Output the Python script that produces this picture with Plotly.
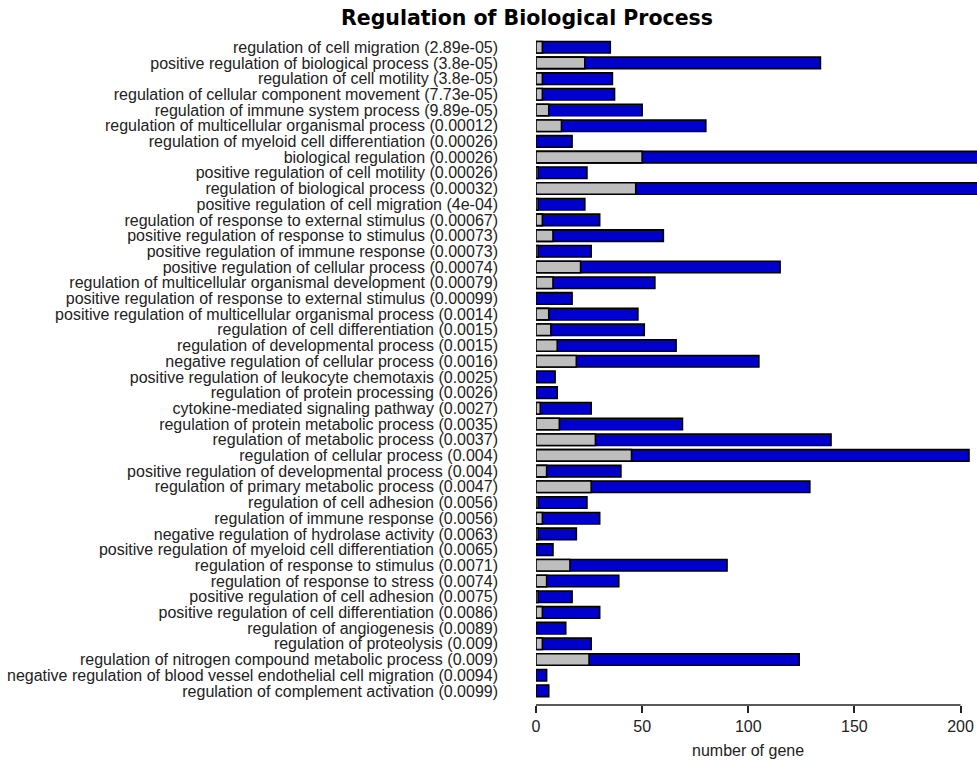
import plotly.graph_objects as go

# GO terms (top to bottom) with their p-values as printed
terms = [
    "regulation of cell migration",
    "positive regulation of biological process",
    "regulation of cell motility",
    "regulation of cellular component movement",
    "regulation of immune system process",
    "regulation of multicellular organismal process",
    "regulation of myeloid cell differentiation",
    "biological regulation",
    "positive regulation of cell motility",
    "regulation of biological process",
    "positive regulation of cell migration",
    "regulation of response to external stimulus",
    "positive regulation of response to stimulus",
    "positive regulation of immune response",
    "positive regulation of cellular process",
    "regulation of multicellular organismal development",
    "positive regulation of response to external stimulus",
    "positive regulation of multicellular organismal process",
    "regulation of cell differentiation",
    "regulation of developmental process",
    "negative regulation of cellular process",
    "positive regulation of leukocyte chemotaxis",
    "regulation of protein processing",
    "cytokine-mediated signaling pathway",
    "regulation of protein metabolic process",
    "regulation of metabolic process",
    "regulation of cellular process",
    "positive regulation of developmental process",
    "regulation of primary metabolic process",
    "regulation of cell adhesion",
    "regulation of immune response",
    "negative regulation of hydrolase activity",
    "positive regulation of myeloid cell differentiation",
    "regulation of response to stimulus",
    "regulation of response to stress",
    "positive regulation of cell adhesion",
    "positive regulation of cell differentiation",
    "regulation of angiogenesis",
    "regulation of proteolysis",
    "regulation of nitrogen compound metabolic process",
    "negative regulation of blood vessel endothelial cell migration",
    "regulation of complement activation",
]

pvalues = [
    "2.89e-05", "3.8e-05", "3.8e-05", "7.73e-05", "9.89e-05", "0.00012",
    "0.00026", "0.00026", "0.00026", "0.00032", "4e-04", "0.00067",
    "0.00073", "0.00073", "0.00074", "0.00079", "0.00099", "0.0014",
    "0.0015", "0.0015", "0.0016", "0.0025", "0.0026", "0.0027",
    "0.0035", "0.0037", "0.004", "0.004", "0.0047", "0.0056",
    "0.0056", "0.0063", "0.0065", "0.0071", "0.0074", "0.0075",
    "0.0086", "0.0089", "0.009", "0.009", "0.0094", "0.0099",
]

# total number of genes per term (blue bar)
total_genes = [
    35, 134, 36, 37, 50, 80, 17, 228, 24, 215, 23, 30, 60, 26, 115, 56,
    17, 48, 51, 66, 105, 9, 10, 26, 69, 139, 204, 40, 129, 24, 30, 19,
    8, 90, 39, 17, 30, 14, 26, 124, 5, 6,
]

# subset count drawn over the total (gray bar)
subset_genes = [
    3, 23, 3, 3, 6, 12, 0, 50, 1, 47, 1, 3, 8, 1, 21, 8,
    0, 6, 7, 10, 19, 0, 0, 2, 11, 28, 45, 5, 26, 1, 3, 1,
    0, 16, 5, 1, 3, 0, 3, 25, 0, 0,
]

x_ticks = [0, 50, 100, 150, 200]

labels = [f"{t} ({p})" for t, p in zip(terms, pvalues)]
rows = list(range(len(terms)))

W, H = 977, 763
L, R, T, B = 536, 0, 38, 58
plot_h = H - T - B
row0_px, row_step = 47.2, 15.7
y_top = -(row0_px - T) / row_step
y_bot = (H - B - row0_px) / row_step
px_per_unit = 2.1225
x_max = (W - L - R) / px_per_unit

bar_line = dict(color="black", width=1.6)

fig = go.Figure()
fig.add_trace(go.Bar(
    y=rows, x=total_genes, orientation="h", width=0.73,
    marker=dict(color="#0000CD", line=bar_line),
    showlegend=False, hoverinfo="x",
))
fig.add_trace(go.Bar(
    y=rows, x=subset_genes, orientation="h", width=0.73,
    marker=dict(color="#BEBEBE", line=bar_line),
    showlegend=False, hoverinfo="x",
))

label_font = dict(family="Liberation Sans, Arial, sans-serif", size=16, color="#222222")

fig.update_layout(
    width=W, height=H,
    margin=dict(l=L, r=R, t=T, b=B, pad=0),
    barmode="overlay",
    plot_bgcolor="white",
    paper_bgcolor="white",
    xaxis=dict(
        range=[0, x_max],
        tickvals=x_ticks,
        ticktext=[str(v) for v in x_ticks],
        ticks="outside", ticklen=7, tickwidth=1.5, tickcolor="#222222",
        showline=False, showgrid=False, zeroline=False,
        tickfont=label_font,
    ),
    yaxis=dict(
        range=[y_bot, y_top],
        tickvals=rows,
        ticktext=labels,
        ticks="", showline=False, showgrid=False, zeroline=False,
        tickfont=label_font,
        ticklabelstandoff=37,
    ),
    shapes=[dict(
        type="line", xref="x", yref="paper",
        x0=x_ticks[0], x1=x_ticks[-1], y0=0, y1=0,
        line=dict(color="#222222", width=1.5),
    )],
    annotations=[
        dict(
            text="<b>Regulation of Biological Process</b>",
            xref="paper", yref="paper",
            x=(527 - L) / (W - L - R), y=(H - B - 18) / plot_h,
            xanchor="center", yanchor="middle", showarrow=False,
            font=dict(family="DejaVu Sans", size=20.5, color="black"),
        ),
        dict(
            text="number of gene",
            xref="x", yref="paper",
            x=100, y=(H - B - 750) / plot_h,
            xanchor="center", yanchor="middle", showarrow=False,
            font=label_font,
        ),
    ],
)

fig.write_html("out.html")
